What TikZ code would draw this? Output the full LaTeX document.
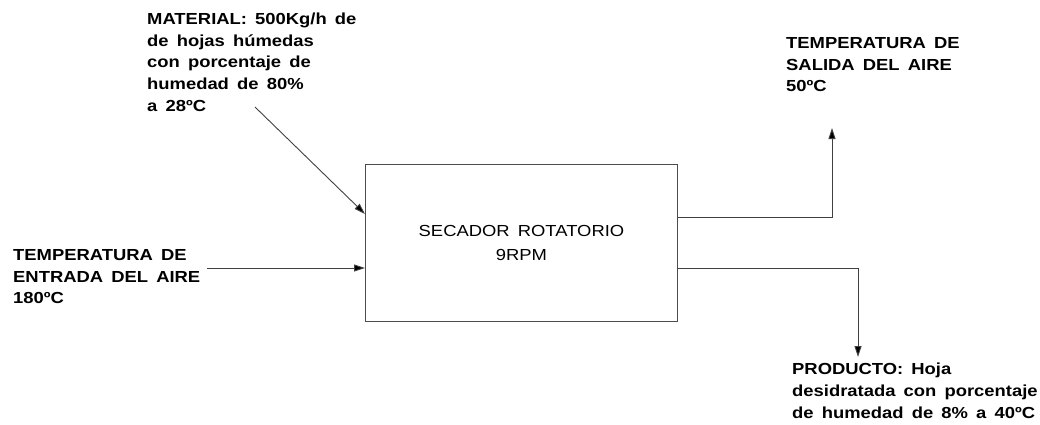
\documentclass[tikz,border=0pt]{standalone}
\usepackage{fontspec}
\setmainfont{Liberation Sans}
\newfontfamily\cadfont[FakeStretch=1.15,WordSpace=1.6]{Liberation Sans}
\usetikzlibrary{arrows.meta,positioning}

\begin{document}
\begin{tikzpicture}[x=1pt, y=-1pt,
    note/.style={align=left, inner sep=0pt, anchor=north west,
      font=\cadfont\bfseries\fontsize{16}{21.8}\selectfont},
    unit/.style={draw=black!70, line width=0.9pt, inner sep=0pt,
      minimum width=312pt, minimum height=157pt, align=center,
      font=\cadfont\fontsize{16}{24}\selectfont},
    flow/.style={draw=black!75, line width=0.9pt,
      -{Triangle[length=11pt,width=7pt,fill=black]}}]
  \useasboundingbox (0,0) rectangle (1040,425);

  % equipo
  \node[unit, anchor=north west] (secador) at (365,164)
    {SECADOR ROTATORIO\\9RPM};

  % corrientes de entrada
  \node[note] (material) at (147,12.5)
    {MATERIAL: 500Kg/h de\\de hojas húmedas\\con porcentaje de\\humedad de 80\%\\a 28ºC};
  \node[note] (entrada) at (13,249)
    {TEMPERATURA DE\\ENTRADA DEL AIRE\\180ºC};
  \coordinate (mat0) at (255,107);
  \coordinate (aire0) at (207,268);
  \draw[flow] (mat0) -- ([yshift=-50pt]secador.north west);
  \draw[flow] (aire0) -- (aire0 -| secador.west);

  % corrientes de salida
  \node[note] (salida) at (786,37)
    {TEMPERATURA DE\\SALIDA DEL AIRE\\50ºC};
  \node[note] (producto) at (792,363)
    {PRODUCTO: Hoja\\desidratada con porcentaje\\de humedad de 8\% a 40ºC};
  \coordinate (gas1) at (832,217);
  \coordinate (sol1) at (858,268);
  \draw[flow] (gas1 -| secador.east) -- (gas1) -- (832,128);
  \draw[flow] (sol1 -| secador.east) -- (sol1) -- (858,357);
\end{tikzpicture}
\end{document}
